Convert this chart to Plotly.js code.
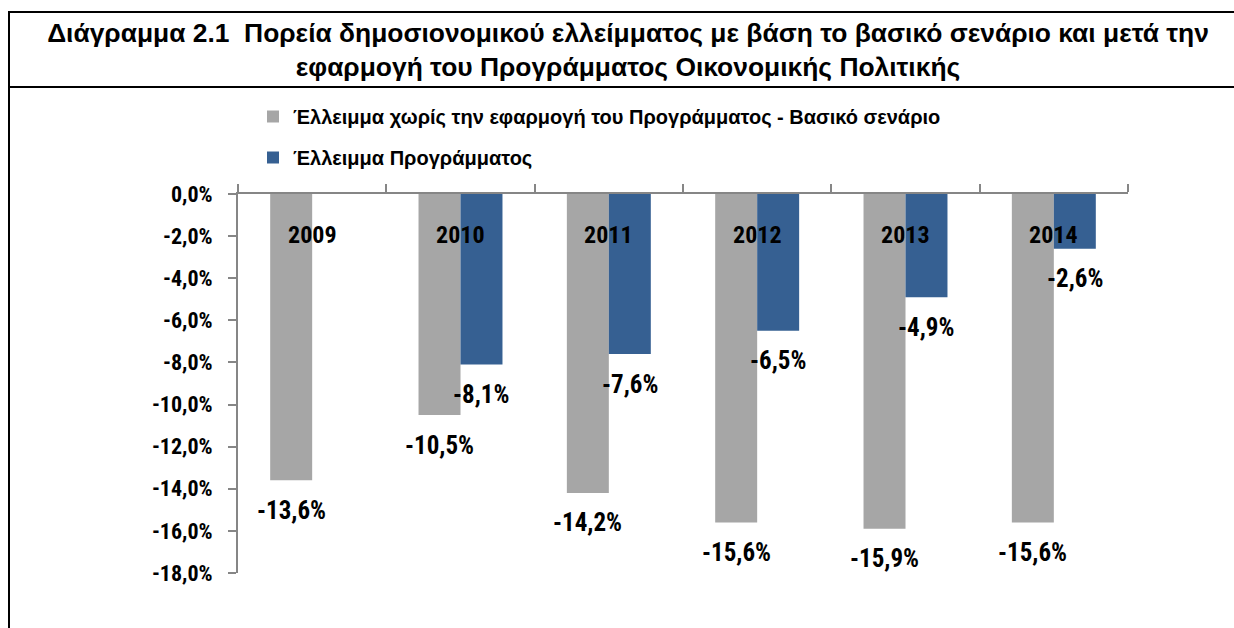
<!DOCTYPE html>
<html>
<head>
<meta charset="utf-8">
<script src="https://cdn.plot.ly/plotly-3.0.1.min.js"></script>
<style>
  html, body { margin: 0; padding: 0; background: #ffffff; }
  #chart { width: 1234px; height: 628px; }
</style>
</head>
<body>
<div id="chart"></div>
<script>
// ---- data ----
const years = ['2009', '2010', '2011', '2012', '2013', '2014'];
const baselineDeficit = [-13.6, -10.5, -14.2, -15.6, -15.9, -15.6];
const programmeDeficit = [null, -8.1, -7.6, -6.5, -4.9, -2.6];
const seriesNames = [
  'Έλλειμμα χωρίς την εφαρμογή του Προγράμματος - Βασικό σενάριο',
  'Έλλειμμα Προγράμματος'
];
const yTickValues = [0, -2, -4, -6, -8, -10, -12, -14, -16, -18];
const titleLines = [
  'Διάγραμμα 2.1  Πορεία δημοσιονομικού ελλείμματος με βάση το βασικό σενάριο και μετά την',
  'εφαρμογή του Προγράμματος Οικονομικής Πολιτικής'
];

// ---- style ----
const NARROW = '"Roboto Condensed", "Liberation Sans Narrow", "Arial Narrow", sans-serif';
const WIDE = '"Liberation Sans", Arial, "DejaVu Sans", sans-serif';
const W = 1234, H = 628;
const M = { l: 238, r: 106, t: 194, b: 55, autoexpand: false };
const BARGAP = 0.434;
const fmt = v => v.toFixed(1).replace('.', ',') + '%';

const pw = W - M.l - M.r, ph = H - M.t - M.b;
const px = x => (x - M.l) / pw;
const py = y => (H - M.b - y) / ph;

const traces = [
  {
    type: 'bar', name: '<b>' + seriesNames[0] + '</b>', x: years, y: baselineDeficit,
    marker: { color: '#A6A6A6' }, legendgroup: 'a', hoverinfo: 'skip'
  },
  {
    type: 'bar', name: '<b>' + seriesNames[1] + '</b>', x: years, y: programmeDeficit,
    marker: { color: '#366092' }, legendgroup: 'b', hoverinfo: 'skip'
  }
];

const annotations = [];
const off = (1 - BARGAP) / 4;
years.forEach((yr, i) => {
  annotations.push({
    x: i, y: -2, xref: 'x', yref: 'y', text: '<b>' + yr + '</b>',
    showarrow: false, xanchor: 'center', yanchor: 'middle', yshift: 1,
    font: { family: NARROW, size: 24, color: '#000' }
  });
  [[baselineDeficit, -off], [programmeDeficit, off]].forEach(([arr, dx]) => {
    const v = arr[i];
    if (v === null || v === undefined) return;
    annotations.push({
      x: i + dx, y: v, xref: 'x', yref: 'y', text: '<b>' + fmt(v) + '</b>',
      showarrow: false, xanchor: 'center', yanchor: 'middle', yshift: -30,
      font: { family: NARROW, size: 25, color: '#000' }
    });
  });
});

const lineStyle = { color: '#000', width: 2 };
const shapes = [
  { type: 'line', xref: 'paper', yref: 'paper', x0: px(8), x1: px(1240), y0: py(12), y1: py(12), line: lineStyle },
  { type: 'line', xref: 'paper', yref: 'paper', x0: px(8), x1: px(1240), y0: py(87), y1: py(87), line: lineStyle },
  { type: 'line', xref: 'paper', yref: 'paper', x0: px(9), x1: px(9), y0: py(11), y1: py(640), line: lineStyle }
];

const layout = {
  width: W, height: H,
  margin: M,
  paper_bgcolor: '#ffffff', plot_bgcolor: '#ffffff',
  font: { family: NARROW, color: '#000' },
  title: {
    text: '<b>' + titleLines.join('<br>') + '</b>',
    x: 628 / W, xanchor: 'center', xref: 'container',
    y: 1 - 42 / H, yanchor: 'middle', yref: 'container',
    font: { family: WIDE, size: 26.4, color: '#000' },
    automargin: false
  },
  barmode: 'group', bargap: BARGAP, bargroupgap: 0,
  showlegend: true,
  legend: {
    xref: 'container', yref: 'container',
    x: 253 / W, xanchor: 'left', y: 1 - 97 / H, yanchor: 'top',
    orientation: 'v', tracegroupgap: 12, traceorder: 'grouped',
    font: { family: WIDE, size: 20, color: '#000' },
    bgcolor: 'rgba(0,0,0,0)'
  },
  xaxis: {
    type: 'category', side: 'top', showticklabels: false,
    showline: true, linecolor: '#868686', linewidth: 2,
    ticks: 'outside', tickson: 'boundaries', ticklen: 8, tickwidth: 2, tickcolor: '#868686',
    showgrid: false, zeroline: false, fixedrange: true, automargin: false
  },
  yaxis: {
    range: [-18, 0], tickvals: yTickValues, ticktext: yTickValues.map(fmt),
    showline: true, linecolor: '#868686', linewidth: 2,
    ticks: 'outside', ticklen: 8, tickwidth: 2, tickcolor: '#868686',
    ticklabelstandoff: 11,
    tickfont: { family: NARROW, size: 22, color: '#000', weight: 'bold' },
    showgrid: false, zeroline: false, fixedrange: true, automargin: false
  },
  annotations: annotations,
  shapes: shapes
};

Plotly.newPlot('chart', traces, layout, { staticPlot: true, displayModeBar: false });
</script>
</body>
</html>
